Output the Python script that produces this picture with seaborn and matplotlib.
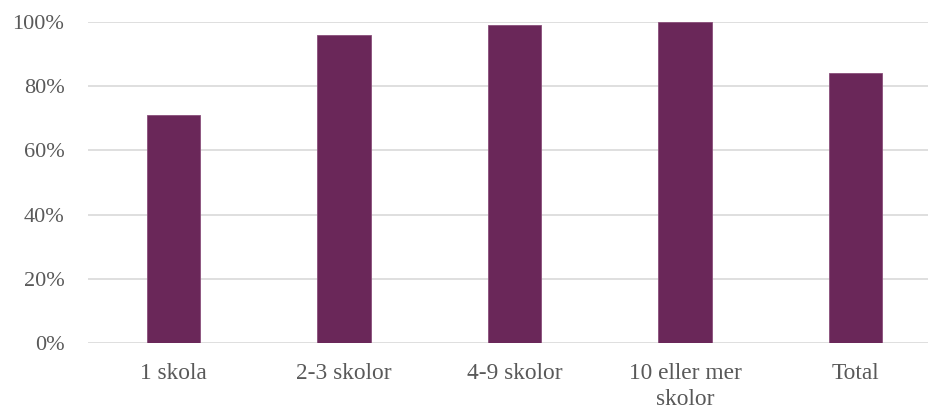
import matplotlib
matplotlib.use("Agg")
import matplotlib.pyplot as plt
from matplotlib.ticker import PercentFormatter
import seaborn as sns
import pandas as pd

categories = ["1 skola", "2-3 skolor", "4-9 skolor", "10 eller mer\nskolor", "Total"]
shares = [0.71, 0.96, 0.99, 1.00, 0.84]
y_ticks = [0.0, 0.2, 0.4, 0.6, 0.8, 1.0]

df = pd.DataFrame({"grupp": categories, "andel": shares})

sns.set_theme(style="white")
plt.rcParams["font.family"] = ["Liberation Serif", "DejaVu Serif"]

fig = plt.figure(figsize=(9.29, 4.09), dpi=100)
ax = fig.add_axes([88 / 929, 66 / 409, 853 / 929, 321 / 409])

sns.barplot(data=df, x="grupp", y="andel", color="#6A2759", width=0.3125,
            saturation=1, edgecolor="#8A4F7A", linewidth=0.6, ax=ax, zorder=3)

ax.set_ylim(0, 1)
ax.set_xlim(-0.5, len(categories) - 0.5)
ax.set_yticks(y_ticks)
ax.yaxis.set_major_formatter(PercentFormatter(1.0, decimals=0))
ax.grid(axis="y", color="#D9D9D9", linewidth=1.2, zorder=0)
ax.set_axisbelow(True)
for s in ax.spines.values():
    s.set_visible(False)

ax.tick_params(axis="y", length=0, pad=17, labelsize=16, labelcolor="#595959")
ax.tick_params(axis="x", length=0, pad=14.5, labelsize=16.8, labelcolor="#595959")
for lbl in ax.get_xticklabels():
    lbl.set_linespacing(1.3)
ax.set_xlabel("")
ax.set_ylabel("")

fig.savefig("out.png", dpi=100)
